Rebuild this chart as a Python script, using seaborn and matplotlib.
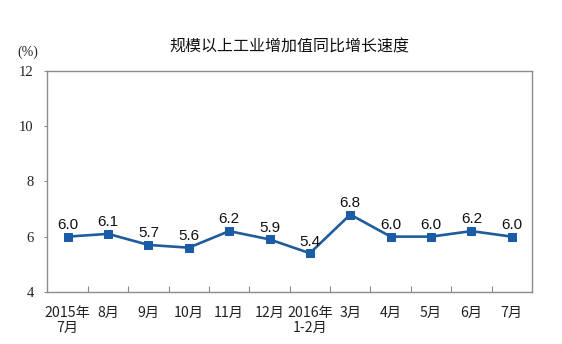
import matplotlib
matplotlib.use("Agg")
import matplotlib.pyplot as plt
import seaborn as sns
import pandas as pd
from matplotlib.ticker import FixedLocator

# Monthly year-on-year growth of industrial value added (%)
months = ["2015年\n7月", "8月", "9月", "10月", "11月", "12月", "2016年\n1-2月",
          "3月", "4月", "5月", "6月", "7月"]
growth = [6.0, 6.1, 5.7, 5.6, 6.2, 5.9, 5.4, 6.8, 6.0, 6.0, 6.2, 6.0]
y_ticks = [4, 6, 8, 10, 12]
title = "规模以上工业增加值同比增长速度"

sns.set_theme(style="white")
plt.rcParams["font.family"] = ["Noto Sans CJK SC", "DejaVu Sans"]

df = pd.DataFrame({"month": months, "growth": growth})
df["pos"] = range(len(months))

fig = plt.figure(figsize=(5.62, 3.44), dpi=100)
ax = fig.add_axes([0.0845, 0.1515, 0.862, 0.6425])

line_color = "#1F5C9C"
sns.lineplot(data=df, x="pos", y="growth", ax=ax, color=line_color,
             linewidth=1.9, marker="s", markersize=5.5,
             markerfacecolor="#1A5DA6", markeredgecolor="#1A5DA6")

for x, v in zip(df["pos"], df["growth"]):
    ax.annotate(f"{v:.1f}", (x, v), xytext=(0, 5.5), textcoords="offset points",
                ha="center", va="baseline", fontsize=11,
                family=["Liberation Sans"], color="#111111")

ax.set_xlim(-0.5, len(months) - 0.5)
ax.set_ylim(4, 12)
ax.set_yticks(y_ticks)
ax.set_yticklabels([str(t) for t in y_ticks], family=["Liberation Serif"],
                   fontsize=10.5, color="#222222")
ax.set_xticks(list(df["pos"]))
ax.set_xticklabels(months, fontsize=10.2, color="#222222", linespacing=1.1)
ax.xaxis.set_minor_locator(FixedLocator([i + 0.5 for i in range(len(months) - 1)]))
ax.tick_params(axis="x", which="major", length=0, pad=10)
ax.tick_params(axis="x", which="minor", direction="in", length=4.5,
               width=0.8, color="#888888", bottom=True)
ax.tick_params(axis="y", which="major", direction="out", length=2,
               width=0.8, color="#888888", left=True, pad=8)
ax.set_xlabel("")
ax.set_ylabel("")
ax.grid(False)

for side in ["left", "right", "top", "bottom"]:
    ax.spines[side].set_visible(True)
    ax.spines[side].set_color("#8C8C8C")
    ax.spines[side].set_linewidth(1.0)

ax.set_title(title, fontsize=11.5, pad=14, color="#111111")
fig.text(28 / 562, 1 - 52 / 344, "(%)", ha="center", va="center",
         family=["Liberation Serif"], fontsize=10, color="#222222")

fig.savefig("out.png", dpi=100, facecolor="white")
